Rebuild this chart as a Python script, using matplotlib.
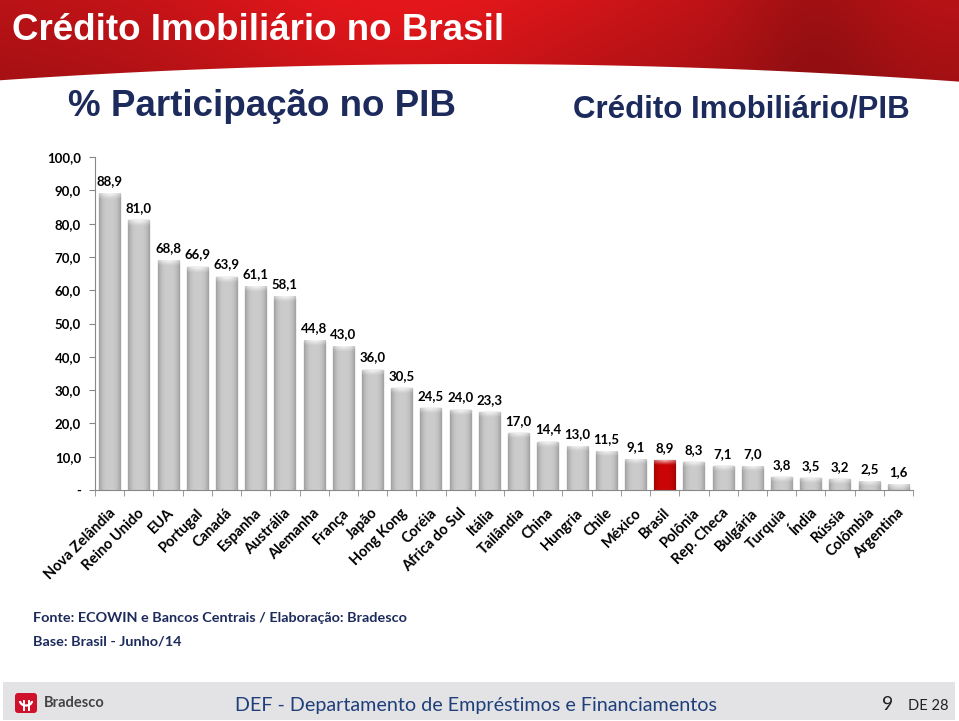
import numpy as np
import matplotlib
matplotlib.use('Agg')
import matplotlib.pyplot as plt
from matplotlib.patches import Polygon, Rectangle, FancyBboxPatch, Arc
from matplotlib.ticker import FixedLocator

# dados
paises = ['Nova Zelândia', 'Reino Unido', 'EUA', 'Portugal', 'Canadá', 'Espanha',
          'Austrália', 'Alemanha', 'França', 'Japão', 'Hong Kong', 'Coréia',
          'Africa do Sul', 'Itália', 'Tailândia', 'China', 'Hungria', 'Chile',
          'México', 'Brasil', 'Polônia', 'Rep. Checa', 'Bulgária', 'Turquia',
          'Índia', 'Rússia', 'Colômbia', 'Argentina']
valores = [88.9, 81.0, 68.8, 66.9, 63.9, 61.1, 58.1, 44.8, 43.0, 36.0, 30.5, 24.5,
           24.0, 23.3, 17.0, 14.4, 13.0, 11.5, 9.1, 8.9, 8.3, 7.1, 7.0, 3.8,
           3.5, 3.2, 2.5, 1.6]
y_ticks = [0, 10, 20, 30, 40, 50, 60, 70, 80, 90, 100]
destaque = 'Brasil'

NAVY = '#1c2a5c'
CAL = ['Lato', 'DejaVu Sans']
ARIAL = ['Liberation Sans Narrow', 'Liberation Sans']

fig = plt.figure(figsize=(9.59, 7.21), dpi=100)

# ── fundo: cabeçalho vermelho e rodapé (coordenadas em pixels) ──
bg = fig.add_axes([0, 0, 1, 1], zorder=0)
bg.axis('off')

xs = np.linspace(0, 959, 200)
curva = 64 + 17 * ((xs - 470) / 480) ** 2
faixa = Polygon(np.vstack([np.column_stack([xs, curva]), [[959, 0], [0, 0]]]),
                closed=True, facecolor='none', edgecolor='none')
bg.add_patch(faixa)
gx = np.linspace(0, 1, 300)[None, :]
gy = np.linspace(0, 1, 60)[:, None]
r = 0.72 + 0.18 * np.exp(-((gx - 0.42) / 0.25) ** 2) - 0.10 * np.exp(-((gx - 0.85) / 0.08) ** 2)
r = r * (1 - 0.12 * gy) * np.ones_like(gy)
img = np.dstack([r, 0.10 * r, 0.12 * r])
bg.imshow(img, extent=[0, 959, 90, 0], aspect='auto', clip_path=faixa,
          interpolation='bilinear', zorder=1)
bg.set_xlim(0, 959)
bg.set_ylim(721, 0)

bg.text(12, 30, 'Crédito Imobiliário no Brasil', color='white', fontsize=26.5,
        fontweight='bold', family='Liberation Sans', va='center', ha='left', zorder=3)
bg.text(68, 106, '% Participação no PIB', color=NAVY, fontsize=26.5,
        fontweight='bold', family=ARIAL, va='center', ha='left')
bg.text(910, 110, 'Crédito Imobiliário/PIB', color=NAVY, fontsize=22.5,
        fontweight='bold', family=ARIAL, va='center', ha='right')

bg.text(33, 618, 'Fonte: ECOWIN e Bancos Centrais / Elaboração: Bradesco',
        color=NAVY, fontsize=10.4, fontweight='bold', family=CAL, va='center')
bg.text(33, 641, 'Base: Brasil - Junho/14',
        color=NAVY, fontsize=10.4, fontweight='bold', family=CAL, va='center')

# rodapé
bg.add_patch(Rectangle((3, 682), 952, 38, facecolor='#e3e3e5', edgecolor='none'))
bg.add_patch(FancyBboxPatch((15, 693), 22, 20, boxstyle='round,pad=0,rounding_size=3',
                            facecolor='#d0112b', edgecolor='none'))
bg.add_patch(Arc((26, 701), 12, 9, theta1=0, theta2=180, color='white', lw=1.6))
bg.plot([23.5, 23.5], [701, 710], color='white', lw=1.4)
bg.plot([28.5, 28.5], [701, 710], color='white', lw=1.4)
bg.text(44, 703, 'Bradesco', color='#444444', fontsize=10.5, fontweight='bold',
        family=CAL, va='center')
bg.text(476, 705, 'DEF - Departamento de Empréstimos e Financiamentos', color='#1f3f7a',
        fontsize=14.2, family=CAL, va='center', ha='center')
bg.text(893, 704, '9', color='#222222', fontsize=14, family=CAL, va='center', ha='right')
bg.text(948, 706, 'DE 28', color='#222222', fontsize=10.5, family=CAL, va='center', ha='right')

# ── gráfico de barras ──
ax = fig.add_axes([95 / 959, 1 - 490 / 721, (913 - 95) / 959, (490 - 157) / 721], zorder=2)
ax.patch.set_alpha(0)
pos = np.arange(len(paises))
cores = ['#c80000' if p == destaque else '#c6c6c6' for p in paises]
barras = ax.bar(pos, valores, width=0.72, color=cores, edgecolor='#808080',
                linewidth=0.9, zorder=2)

# sombreado das barras (bordas escuras, topo claro)
for rect, v, p in zip(barras, valores, paises):
    base = np.array([0.80, 0.02, 0.02]) if p == destaque else np.array([0.80, 0.80, 0.80])
    bx = np.linspace(-1, 1, 60)[None, :]
    by = np.linspace(0, v, 150)[:, None]
    shade = 1 - 0.22 * np.abs(bx) ** 3
    im = base[None, None, :] * shade[..., None] * np.ones((150, 1, 1))
    cap = np.clip((by - (v - 1.4)) / 1.4, 0, 1) * (1 - 0.5 * np.abs(bx))
    im = im + (1 - im) * 0.75 * cap[..., None]
    ax.imshow(np.clip(im, 0, 1), extent=[rect.get_x(), rect.get_x() + rect.get_width(), 0, v],
              origin='lower', aspect='auto', interpolation='bilinear',
              clip_path=rect, zorder=2.5)

for x, v in zip(pos, valores):
    ax.text(x, v + 2.0, f'{v:.1f}'.replace('.', ','), ha='center', va='bottom',
            fontsize=9.5, fontweight='bold', family=CAL, color='black')

ax.set_xlim(-0.5, len(paises) - 0.5)
ax.set_ylim(0, 100)
ax.set_yticks(y_ticks)
ax.set_yticklabels(['-' if t == 0 else f'{t:.1f}'.replace('.', ',') for t in y_ticks],
                   fontsize=9.5, fontweight='bold', family=CAL)
ax.set_xticks(pos + 0.12)
ax.set_xticklabels(paises, rotation=45, ha='right', va='center', rotation_mode='anchor',
                   fontsize=10.5, fontweight='bold', family=CAL)
ax.xaxis.set_minor_locator(FixedLocator(np.arange(-0.5, len(paises), 1)))
ax.tick_params(axis='x', which='major', length=0, pad=15)
ax.tick_params(axis='x', which='minor', length=4, color='#888888')
ax.tick_params(axis='y', length=4, color='#888888', pad=6)
for s in ['top', 'right']:
    ax.spines[s].set_visible(False)
for s in ['left', 'bottom']:
    ax.spines[s].set_color('#888888')

fig.savefig('out.png', dpi=100)
